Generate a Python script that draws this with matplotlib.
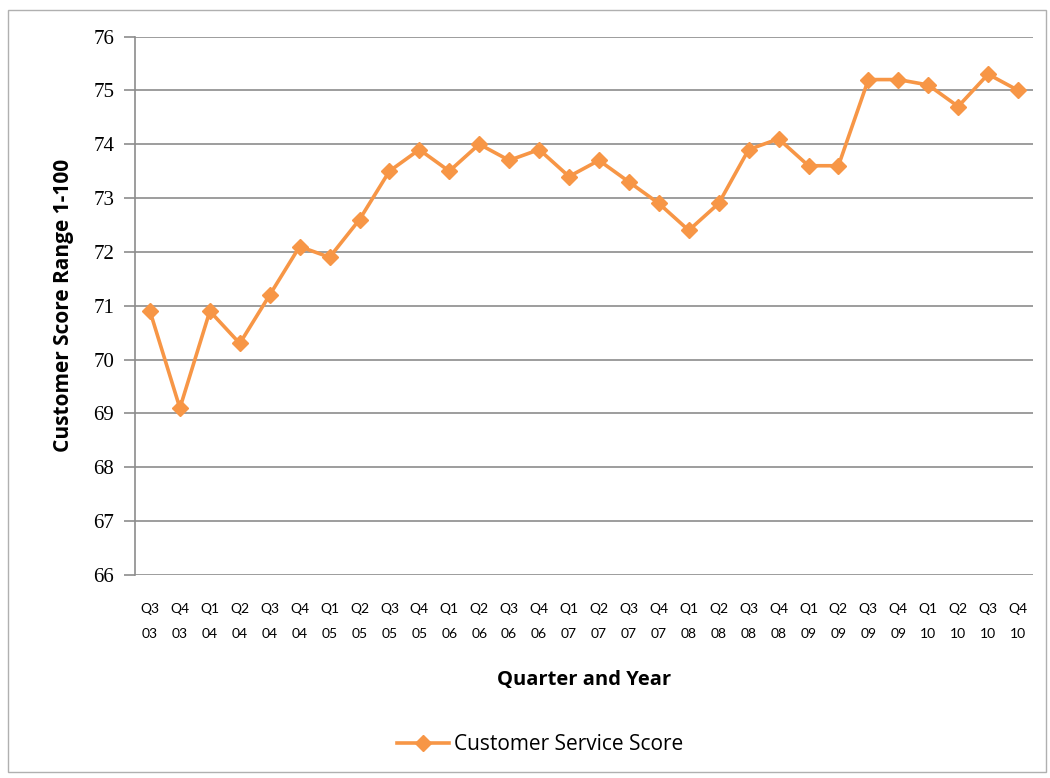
import matplotlib
matplotlib.use("Agg")
import matplotlib.pyplot as plt
from matplotlib.patches import Rectangle

quarters = ["Q3", "Q4", "Q1", "Q2", "Q3", "Q4", "Q1", "Q2", "Q3", "Q4",
            "Q1", "Q2", "Q3", "Q4", "Q1", "Q2", "Q3", "Q4", "Q1", "Q2",
            "Q3", "Q4", "Q1", "Q2", "Q3", "Q4", "Q1", "Q2", "Q3", "Q4"]
years = ["03", "03", "04", "04", "04", "04", "05", "05", "05", "05",
         "06", "06", "06", "06", "07", "07", "07", "07", "08", "08",
         "08", "08", "09", "09", "09", "09", "10", "10", "10", "10"]
scores = [70.9, 69.1, 70.9, 70.3, 71.2, 72.1, 71.9, 72.6, 73.5, 73.9,
          73.5, 74.0, 73.7, 73.9, 73.4, 73.7, 73.3, 72.9, 72.4, 72.9,
          73.9, 74.1, 73.6, 73.6, 75.2, 75.2, 75.1, 74.7, 75.3, 75.0]
y_ticks = [66, 67, 68, 69, 70, 71, 72, 73, 74, 75, 76]

orange = "#F79646"
grid_col = "#8c8c8c"

fig = plt.figure(figsize=(10.5, 7.78), dpi=100)
ax = fig.add_axes([135 / 1050, 1 - 575 / 778, (1033 - 135) / 1050, (575 - 36.5) / 778])

# outer chart border
fig.patches.append(Rectangle((8 / 1050, 6 / 778), 1038 / 1050, 762 / 778,
                             transform=fig.transFigure, fill=False,
                             edgecolor="#b0b0b0", linewidth=1.0))

x = list(range(len(scores)))
ax.plot(x, scores, color=orange, linewidth=2.6, marker="D", markersize=8,
        label="Customer Service Score", zorder=3)

ax.set_xlim(-0.5, len(scores) - 0.5)
ax.set_ylim(66, 76)
ax.set_yticks(y_ticks)
ax.set_yticklabels([str(v) for v in y_ticks], fontsize=15, family="Liberation Serif")
ax.set_xticks(x)
ax.set_xticklabels([f"{q}\n{y}" for q, y in zip(quarters, years)],
                   fontsize=10, family="Lato", linespacing=2.3)
ax.tick_params(axis="x", length=0, pad=20)
ax.tick_params(axis="y", length=8, width=1.2, color=grid_col, pad=7)

ax.yaxis.grid(True, color=grid_col, linewidth=1.2)
ax.set_axisbelow(True)
for side in ["top", "right", "bottom"]:
    ax.spines[side].set_visible(False)
ax.spines["left"].set_color(grid_col)
ax.spines["left"].set_linewidth(1.2)

ax.set_ylabel("Customer Score Range 1-100", fontsize=15, fontweight="bold",
              family="Open Sans", labelpad=14)
ax.set_xlabel("Quarter and Year", fontsize=14.5, fontweight="bold",
              family="Open Sans", labelpad=22)

ax.legend(loc="center", bbox_to_anchor=(540 / 1050, 1 - 745 / 778),
          bbox_transform=fig.transFigure, frameon=False,
          prop={"family": "Open Sans", "size": 15}, handlelength=2.5,
          handletextpad=0.2)

fig.savefig("out.png", dpi=100)
